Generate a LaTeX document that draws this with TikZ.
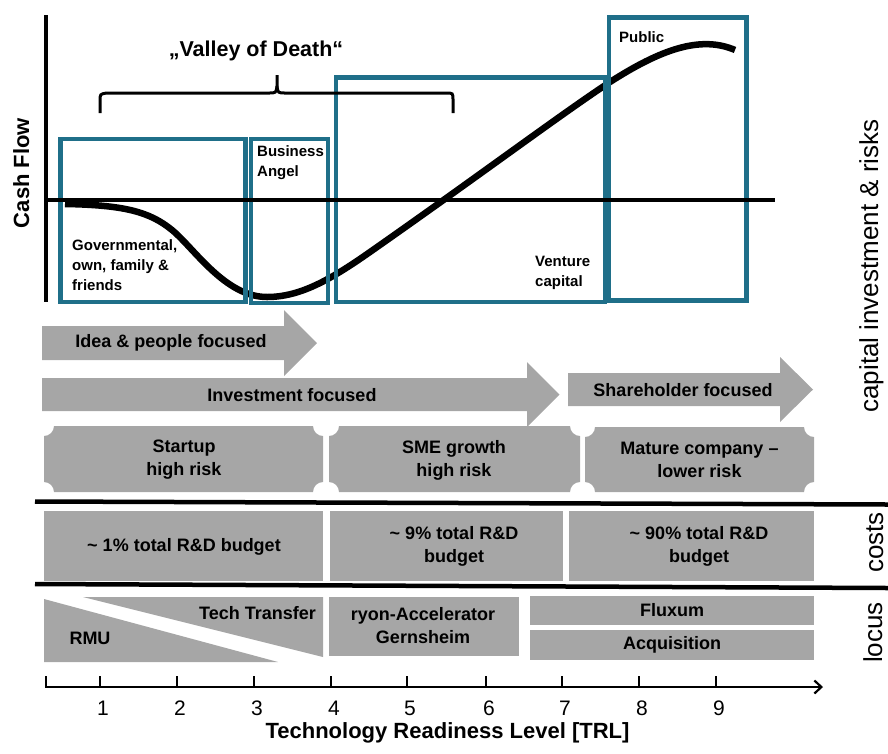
\documentclass[tikz,border=0pt]{standalone}
\usepackage{fontspec}
\setmainfont{Liberation Sans}
\usetikzlibrary{arrows.meta}
\definecolor{teal0}{RGB}{31,111,137}
\definecolor{boxgray}{RGB}{166,166,166}
\newcommand\tktbox[4]{\fill[boxgray] (#1+10,#2) -- (#3-10,#2) arc[start angle=180,end angle=90,radius=10] -- (#3,#4-10) arc[start angle=270,end angle=180,radius=10] -- (#1+10,#4) arc[start angle=0,end angle=-90,radius=10] -- (#1,#2+10) arc[start angle=90,end angle=0,radius=10] -- cycle;}
\begin{document}
\begin{tikzpicture}[x=1pt,y=-1pt,
  lbl/.style={font=\bfseries\fontsize{18}{23}\selectfont, align=center, inner sep=0},
  small/.style={font=\bfseries\fontsize{15}{20}\selectfont, align=left, inner sep=0, anchor=west},
  gbox/.style={fill=boxgray, draw=none},
  tealbox/.style={draw=teal0, line width=4.5pt},
  side/.style={font=\fontsize{26}{30}\selectfont, rotate=90, anchor=base, inner sep=0},
  num/.style={font=\fontsize{21}{24}\selectfont, anchor=base, inner sep=0}]
\useasboundingbox (0,0) rectangle (888,753);

% cash flow curve
\draw[line width=6.5pt] (65,204) .. controls (125,205) and (150,212) .. (172,230)
  .. controls (194,248) and (225,297) .. (267,297)
  .. controls (300,297) and (330,280) .. (370,252)
  .. controls (480,175) and (560,115) .. (610,82)
  .. controls (660,50) and (700,35) .. (735,50);

% investor boxes
\draw[tealbox] (60.5,139) rectangle (245.5,302);
\draw[tealbox] (251,139) rectangle (328,303);
\draw[tealbox] (336,77.5) rectangle (605,302);
\draw[tealbox] (609,17.5) rectangle (746.5,300.5);

% axes
\draw[line width=4.5pt] (46,15) -- (46,302);
\draw[line width=4pt] (46,200) -- (775,200);

% brace
\draw[line width=3pt] (100,113) -- (100,101) .. controls (100,94) .. (107,93) -- (269,93) .. controls (276,93) .. (277,86) -- (277,75);
\draw[line width=3pt] (277,86) .. controls (278,93) .. (285,93) -- (446,93) .. controls (453,93) .. (453,100) -- (453,113);

\node[font=\bfseries\fontsize{21.5}{24}\selectfont, inner sep=0] (vod) at (256,51) {„Valley of Death“};
\node[font=\bfseries\fontsize{22}{24}\selectfont, rotate=90, anchor=base, inner sep=0] (cf) at (29,173) {Cash Flow};

\node[small] (gov) at (72,265) {Governmental,\\own, family \&\\friends};
\node[small] (ba) at (257,163) {Business\\Angel};
\node[small] (vc) at (535,273) {Venture\\capital};
\node[small] (pub) at (619,37) {Public};

% focus arrows
\fill[boxgray] (42,326) -- (284,326) -- (284,310) -- (317,343) -- (284,376) -- (284,360) -- (42,360) -- cycle;
\fill[boxgray] (42,378) -- (527,378) -- (527,362) -- (559.5,394.5) -- (527,427) -- (527,411) -- (42,411) -- cycle;
\fill[boxgray] (568,373) -- (780,373) -- (780,357) -- (813,389.5) -- (780,422) -- (780,406) -- (568,406) -- cycle;
\node[lbl] (idea) at (171,343) {Idea \& people focused};
\node[lbl] (inv) at (292,395) {Investment focused};
\node[lbl] (share) at (683,390) {Shareholder focused};

% company stage tickets
\tktbox{44}{426}{323}{492}
\tktbox{329}{426}{580}{492}
\tktbox{585}{427}{814}{492}
\node[lbl] (st) at (184,460) {Startup\\high risk};
\node[lbl] (sme) at (454,460) {SME growth\\high risk};
\node[lbl] (mat) at (699.5,460) {Mature company –\\lower risk};

% separators
\draw[line width=4.5pt] (35,501.5) -- (888,504.5);
\draw[line width=4.5pt] (35,584) -- (888,588);

% costs
\fill[gbox] (44,511) rectangle (323,581);
\fill[gbox] (330,511) rectangle (563,581);
\fill[gbox] (569,511) rectangle (814,581);
\node[lbl] (c1) at (184,547) {\textasciitilde{} 1\% total R\&D budget};
\node[lbl] (c2) at (454,546) {\textasciitilde{} 9\% total R\&D\\budget};
\node[lbl] (c3) at (699,546) {\textasciitilde{} 90\% total R\&D\\budget};

% locus
\fill[gbox] (44,599) -- (278,662) -- (44,662) -- cycle;
\fill[gbox] (83,597) -- (323,597) -- (323,657) -- cycle;
\fill[gbox] (329,597) rectangle (519,656);
\fill[gbox] (530,596) rectangle (814,625);
\fill[gbox] (530,630) rectangle (814,660);
\node[lbl] (rmu) at (90,638) {RMU};
\node[lbl, anchor=east] (tt) at (316,613) {Tech Transfer};
\node[lbl] (ryon) at (423,626) {ryon-Accelerator\\Gernsheim};
\node[lbl] (flux) at (672,610) {Fluxum};
\node[lbl] (acq) at (672,645) {Acquisition};

% side labels
\node[side] (cap) at (878,266) {capital investment \& risks};
\node[side] (costs) at (883,542.5) {costs};
\node[side] (locus) at (882,632.5) {locus};

% TRL axis
\coordinate (a0) at (46,687);
\coordinate (a1) at (823,687);
\draw[line width=2.2pt, -{Straight Barb[length=7pt,width=13pt]}] (a0) -- (a1);
\draw[line width=2.2pt] (46,676) -- (46,688);
\foreach \i/\x in {1/100,2/177,3/254,4/331,5/407,6/486,7/562,8/639,9/716}{
  \draw[line width=2.2pt] (\x,676) -- (\x,687);
  \node[num] (n\i) at (\x+3,715) {\i};
}
\node[font=\bfseries\fontsize{22}{24}\selectfont, anchor=base, inner sep=0] (trl) at (447.5,738) {Technology Readiness Level [TRL]};
\end{tikzpicture}
\end{document}
